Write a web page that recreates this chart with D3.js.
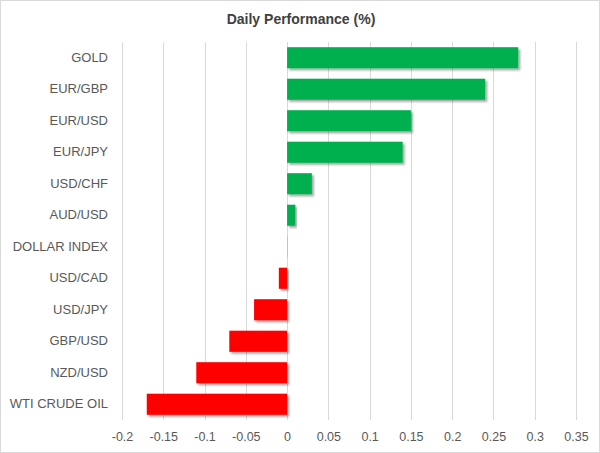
<!DOCTYPE html>
<html>
<head>
<meta charset="utf-8">
<script src="https://cdn.jsdelivr.net/npm/d3@7"></script>
<style>
  body { margin: 0; background: #fff; }
  text { font-family: "Liberation Sans", Arial, sans-serif; }
</style>
</head>
<body>
<div id="chart"></div>
<script>
const categories = ['GOLD', 'EUR/GBP', 'EUR/USD', 'EUR/JPY', 'USD/CHF', 'AUD/USD',
  'DOLLAR INDEX', 'USD/CAD', 'USD/JPY', 'GBP/USD', 'NZD/USD', 'WTI CRUDE OIL']
const values = [0.28, 0.24, 0.15, 0.14, 0.03, 0.01, 0.001, -0.01, -0.04, -0.07, -0.11, -0.17]
const ticks = [-0.2, -0.15, -0.1, -0.05, 0, 0.05, 0.1, 0.15, 0.2, 0.25, 0.3, 0.35]

const W = 600, H = 453
const margin = { top: 42, right: 24, bottom: 33, left: 122 }
const width = W - margin.left - margin.right
const height = H - margin.top - margin.bottom

const data = categories.map((c, i) => ({ name: c, value: values[i] }))

const svg = d3.select('#chart').append('svg')
  .attr('width', W)
  .attr('height', H)

const defs = svg.append('defs')
const shadow = defs.append('filter')
  .attr('id', 'shadow')
  .attr('x', '-10%').attr('y', '-20%')
  .attr('width', '130%').attr('height', '160%')
shadow.append('feDropShadow')
  .attr('dx', 2).attr('dy', 2)
  .attr('stdDeviation', 1.2)
  .attr('flood-color', '#000')
  .attr('flood-opacity', 0.35)

// outer border
svg.append('rect')
  .attr('x', 0.5).attr('y', 0.5)
  .attr('width', W - 1).attr('height', H - 1)
  .attr('fill', '#fff')
  .attr('stroke', '#d9d9d9')

svg.append('text')
  .attr('x', 301)
  .attr('y', 24)
  .attr('text-anchor', 'middle')
  .attr('font-size', 14)
  .attr('font-weight', 'bold')
  .attr('fill', '#404040')
  .text('Daily Performance (%)')

const g = svg.append('g')
  .attr('transform', 'translate(' + margin.left + ',' + margin.top + ')')

const x = d3.scaleLinear()
  .domain([-0.2, 0.35])
  .range([0, width])

const y = d3.scaleBand()
  .domain(categories)
  .range([0, height])
  .paddingInner(0.33)
  .paddingOuter(0.165)

// gridlines
g.append('g')
  .selectAll('line')
  .data(ticks)
  .enter().append('line')
    .attr('x1', d => Math.round(x(d)) + 0.5)
    .attr('x2', d => Math.round(x(d)) + 0.5)
    .attr('y1', 0)
    .attr('y2', height)
    .attr('stroke', '#d9d9d9')

// x axis labels (plain hyphen minus like excel)
const xAxis = g.append('g')
  .attr('transform', 'translate(0,' + height + ')')
  .call(d3.axisBottom(x).tickValues(ticks).tickSize(0).tickPadding(12)
    .tickFormat(d => String(+d.toFixed(2))))
xAxis.select('.domain').remove()
xAxis.selectAll('text')
  .attr('font-size', 12.5)
  .attr('fill', '#595959')
  .attr('font-family', '"Liberation Sans", Arial, sans-serif')

// category labels
const yAxis = g.append('g')
  .attr('transform', 'translate(-14,0)')
  .call(d3.axisLeft(y).tickSize(0).tickPadding(0))
yAxis.select('.domain').remove()
yAxis.selectAll('text')
  .attr('font-size', 13)
  .attr('fill', '#595959')
  .attr('font-family', '"Liberation Sans", Arial, sans-serif')

// bars
g.append('g')
  .selectAll('.bar')
  .data(data)
  .enter().append('rect')
    .attr('class', 'bar')
    .attr('x', d => x(Math.min(0, d.value)))
    .attr('y', d => y(d.name))
    .attr('width', d => Math.abs(x(d.value) - x(0)))
    .attr('height', y.bandwidth())
    .attr('fill', d => d.value >= 0 ? '#00b050' : '#ff0000')
    .attr('filter', d => Math.abs(d.value) < 0.005 ? null : 'url(#shadow)')
    .attr('opacity', d => Math.abs(d.value) < 0.005 ? 0.25 : 1)
</script>
</body>
</html>
